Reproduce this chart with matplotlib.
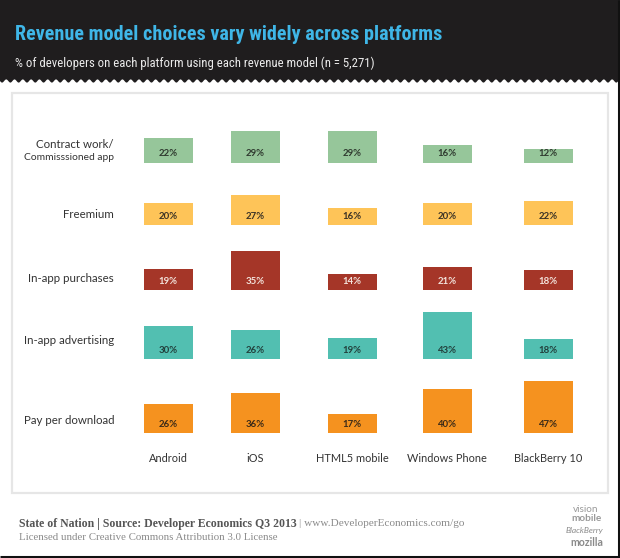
import numpy as np
import matplotlib
matplotlib.use("Agg")
import matplotlib.pyplot as plt
from matplotlib import font_manager
from matplotlib.patches import Rectangle

# data
platforms = ["Android", "iOS", "HTML5 mobile", "Windows Phone", "BlackBerry 10"]
models = ["Contract work/", "Freemium", "In-app purchases", "In-app advertising", "Pay per download"]
contract_work = [22, 29, 29, 16, 12]
freemium = [20, 27, 16, 20, 22]
in_app_purchases = [19, 35, 14, 21, 18]
in_app_advertising = [30, 26, 19, 43, 18]
pay_per_download = [26, 36, 17, 40, 47]

series = [contract_work, freemium, in_app_purchases, in_app_advertising, pay_per_download]
bar_colors = ["#96c69a", "#fec458", "#a53628", "#52bfb1", "#f5921f"]
text_colors = ["#2f3a2f", "#3a3226", "#f3e3dc", "#22403c", "#3a2a18"]

# layout in pixels
col_x = [168, 255, 352, 447, 548]
row_base = [162.7, 225.3, 290, 359.3, 433.3]
row_label_y = [145, 214, 278, 341, 420]
px_per_pct = 1.11
bar_w = 49

installed = {f.name for f in font_manager.fontManager.ttflist}
condensed = [n for n in ["Liberation Sans Narrow", "DejaVu Sans Condensed", "Roboto Condensed",
                         "Open Sans Condensed", "Noto Sans"] if n in installed]
head_font = [condensed[0] if condensed else "DejaVu Sans", "DejaVu Sans"]
sans = ["Lato", "DejaVu Sans"]
serif = ["Liberation Serif", "DejaVu Serif"]

fig = plt.figure(figsize=(6.2, 5.58), dpi=100)
ax = fig.add_axes([0, 0, 1, 1])
ax.set_xlim(0, 620)
ax.set_ylim(558, 0)
ax.axis("off")


def fit_width(t, width_px):
    # shrink/grow a text so it spans the width seen in the reference
    fig.canvas.draw()
    w = t.get_window_extent().width
    t.set_fontsize(t.get_fontsize() * width_px / w)


# dark header with wavy lower edge
wx = np.linspace(0, 620, 1200)
wy = 81 + 1.6 * np.sin(2 * np.pi * wx / 8.3)
ax.fill_between(wx, 0, wy, color="#1f1d1e", lw=0)
title = ax.text(15, 40, "Revenue model choices vary widely across platforms", family=head_font,
                fontweight="bold", fontsize=16, color="#3fb6e7", va="baseline")
fit_width(title, 425)
sub = ax.text(15, 63, "% of developers on each platform using each revenue model (n = 5,271)",
              family=head_font, fontsize=10, color="#ececec", va="center")
fit_width(sub, 355)

# white panel
ax.add_patch(Rectangle((12, 93), 596, 400, facecolor="white", edgecolor="#e6e6e6", lw=1.6))

for r, vals in enumerate(series):
    ax.bar(col_x, [-v * px_per_pct for v in vals], bottom=row_base[r], width=bar_w,
           color=bar_colors[r], lw=0)
    for cx, v in zip(col_x, vals):
        ax.text(cx, row_base[r] - 9, f"{v}%", ha="center", va="center", family=sans,
                fontweight="bold", fontsize=6.9, color=text_colors[r])
    ax.text(114, row_label_y[r], models[r], ha="right", va="center", family=sans,
            fontsize=8.3, color="#333333")
ax.text(114, 157, "Commisssioned app", ha="right", va="center", family=sans,
        fontsize=7.4, color="#333333")

for cx, name in zip(col_x, platforms):
    ax.text(cx, 458, name, ha="center", va="center", family=sans, fontsize=7.9, color="#333333")

# footer
t = ax.text(19, 524, "State of Nation | Source: Developer Economics Q3 2013", family=serif,
            fontweight="bold", fontsize=8.5, color="#555555", va="center")
fig.canvas.draw()
bb = t.get_window_extent()
x_end = ax.transData.inverted().transform((bb.x1, bb.y0))[0]
ax.text(x_end + 2, 524, "| www.DeveloperEconomics.com/go", family=serif, fontsize=8.1,
        color="#8a8a8a", va="center")
ax.text(19, 538, "Licensed under Creative Commons Attribution 3.0 License", family=serif,
        fontsize=7.8, color="#8a8a8a", va="center")

ax.text(586, 510, "vision", ha="center", va="center", family=sans, fontsize=7.2, color="#9a9a9a")
ax.text(586, 518.5, "mobile", ha="center", va="center", family=sans, fontsize=7.2,
        fontweight="bold", color="#9a9a9a")
ax.text(584, 531, "BlackBerry", ha="center", va="center", family=sans, fontsize=6,
        style="italic", color="#8a8a8a")
ax.text(587, 543, "mozilla", ha="center", va="center", family=sans, fontsize=7.6,
        fontweight="bold", color="#8a8a8a")

# dark frame at right and bottom
ax.plot([0, 620], [557, 557], color="#111111", lw=2.2, solid_capstyle="butt")
ax.plot([618.5, 618.5], [0, 558], color="#111111", lw=2.2, solid_capstyle="butt")

fig.savefig("out.png", dpi=100)
